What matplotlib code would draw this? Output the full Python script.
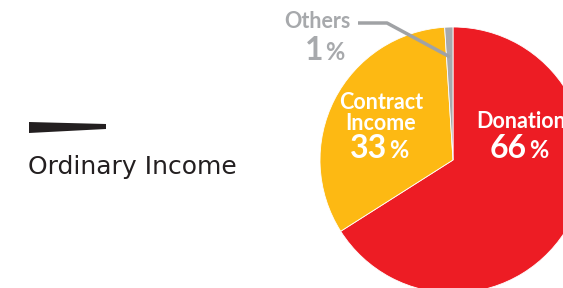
import matplotlib.pyplot as plt
from matplotlib.patches import Polygon

plt.rcParams['font.family'] = ['Lato', 'DejaVu Sans']

# data
labels = ['Donation', 'Contract\nIncome', 'Others']
shares = [66, 33, 1]
colors = ['#ED1C24', '#FDB913', '#A7A9AC']
legend_label = 'Ordinary Income'

W, H = 563, 288
fig = plt.figure(figsize=(W / 100, H / 100), dpi=100)

# pie in its own axes, pixel-like coordinates with y up
pax = fig.add_axes([0, 0, 1, 1])
pax.pie(shares, colors=colors, startangle=90, counterclock=False,
        center=(453, H - 160), radius=133,
        wedgeprops=dict(linewidth=0.6, edgecolor='white'))
pax.set_xlim(0, W)
pax.set_ylim(0, H)
pax.set_aspect('equal')
pax.axis('off')

# overlay axes for texts, y down like the picture
ax = fig.add_axes([0, 0, 1, 1])
ax.patch.set_alpha(0)
ax.set_xlim(0, W)
ax.set_ylim(H, 0)
ax.axis('off')

# legend marker and label
ax.add_patch(Polygon([(29, 122), (106, 124), (106, 129), (29, 133)],
                     closed=True, color='#231F20', lw=0))
ax.text(28, 167, legend_label, fontsize=18, color='#231F20',
        ha='left', va='center', family='DejaVu Sans')

# slice labels
def slice_label(x, y_name, y_pct, name, pct, color, name_size=15.5):
    ax.text(x, y_name, name, fontsize=name_size, fontweight='bold',
            color=color, ha='center', va='center', linespacing=0.95)
    ax.text(x + 6, y_pct, str(pct), fontsize=23, fontweight='bold',
            color=color, ha='right', va='center')
    ax.text(x + 8, y_pct + 2, '%', fontsize=17, fontweight='bold',
            color=color, ha='left', va='center')

slice_label(521, 121, 148, labels[0], shares[0], 'white')
slice_label(381, 113, 148, labels[1], shares[1], 'white')
slice_label(317, 22, 50, labels[2], shares[2], '#A7A9AC')

# leader line for Others
ax.plot([358, 387, 450], [23, 23, 57], color='#A0A2A5', lw=2.5,
        solid_capstyle='butt')

fig.savefig('out.png', dpi=100)
